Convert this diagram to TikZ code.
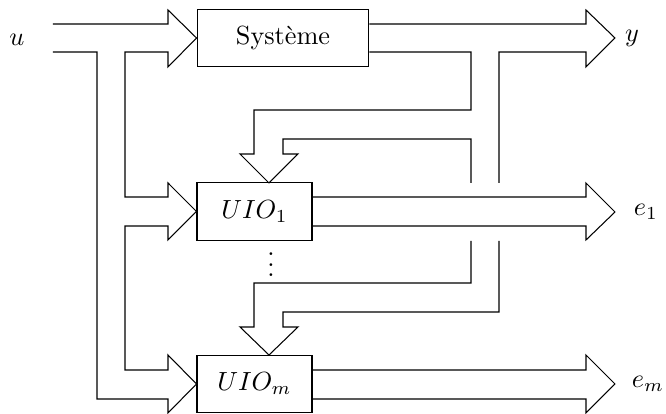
\documentclass[tikz,border=0pt]{standalone}
\usepackage{amsmath,amssymb}
\usepackage{tikz}

\tikzset{
  bloc/.style={draw, fill=white, inner sep=0pt, minimum width=43.8pt, minimum height=22pt},
  fleche/.style={draw, line join=miter},
}

\begin{document}
\begin{tikzpicture}[x=0.381pt, y=-0.381pt]
    \useasboundingbox (0,0) rectangle (666,414);

    % blocs
    \node[bloc, minimum width=65.5pt] (sys) at (283,38) {Syst\`eme};
    \node[bloc] (uio1) at (254.5,211.5) {$UIO_1$};
    \node[bloc] (uiom) at (254.5,384) {$UIO_m$};
    \node (dots) at (271,257) {$\vdots$};

    % etiquettes
    \node (u) at (17,40) {$u$};
    \node (y) at (632,38) {$y$};
    \node (e1) at (646,212) {$e_1$};
    \node (em) at (648,384) {$e_m$};

    % entree u
    \draw[fleche] (53,24) -- (168,24) -- (168,10) -- (sys.west) -- (168,67) -- (168,52)
        -- (125,52) -- (125,197) -- (168,197) -- (168,183) -- (uio1.west) -- (168,240)
        -- (168,226) -- (125,226) -- (125,370) -- (168,370) -- (168,355) -- (uiom.west)
        -- (168,413) -- (168,399) -- (97,399) -- (97,52) -- (53,52);

    % sortie y
    \draw[fleche] (sys.east |- 0,24) -- (586,24) -- (586,10) -- (615,38) -- (586,67)
        -- (586,52) -- (499,52) -- (499,183);
    \draw[fleche] (sys.east |- 0,52) -- (471,52) -- (471,110) -- (254,110) -- (254,154)
        -- (240,154) -- (269,183) -- (298,154) -- (283,154) -- (283,139) -- (471,139)
        -- (471,183);
    \draw[fleche] (471,241) -- (471,283) -- (254,283) -- (254,327) -- (240,327)
        -- (269,355) -- (298,327) -- (283,327) -- (283,312) -- (499,312) -- (499,241);

    % residus
    \draw[fleche] (uio1.east |- 0,197) -- (586,197) -- (586,183) -- (615,212) -- (586,240)
        -- (586,226) -- (uio1.east |- 0,226);
    \draw[fleche] (uiom.east |- 0,370) -- (586,370) -- (586,355) -- (615,384) -- (586,413)
        -- (586,399) -- (uiom.east |- 0,399);
\end{tikzpicture}
\end{document}
